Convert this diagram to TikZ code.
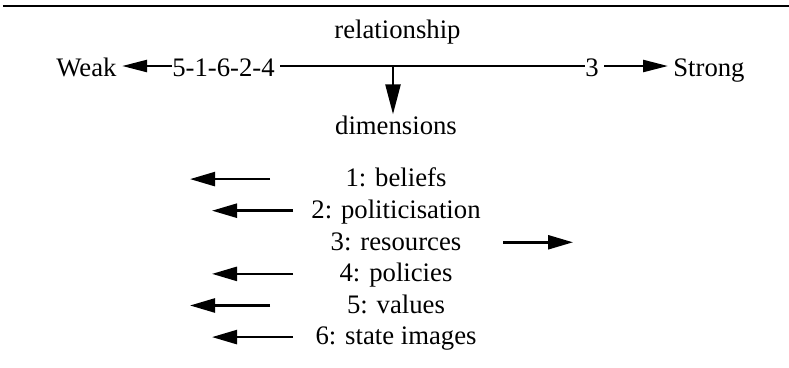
\documentclass[tikz,border=0pt]{standalone}
\usepackage{fontspec}
\setmainfont{Liberation Serif}
\usepackage{tikz}
\usetikzlibrary{arrows.meta}

\begin{document}
\begin{tikzpicture}[
    lbl/.style={inner sep=0pt, font=\fontsize{15.2pt}{18pt}\selectfont},
    rowtxt/.style={lbl, text height=12.5pt, text depth=0pt},
    dimtxt/.style={lbl, text height=9pt, text depth=0pt},
    axisarrow/.style={-{Triangle[length=0.5cm, width=0.24cm]}, line width=1.4pt},
    dimarrow/.style={-{Triangle[length=0.5cm, width=0.28cm]}, line width=1.4pt},
    downarrow/.style={-{Triangle[length=0.6cm, width=0.3cm]}, line width=1.4pt}
  ]
\useasboundingbox (0,0) rectangle (15.78,7.36);

\draw[line width=1pt] (0.06,7.24) -- (15.78,7.24);

\node[lbl, anchor=base] (relation) at (7.95,6.59) {relationship};

% the scale from weak to strong
\node[rowtxt, anchor=base west] (weak) at (1.12,5.82) {Weak};

\node[rowtxt, anchor=base west] (order) at (3.44,5.82) {5-1-6-2-4};

\node[rowtxt, anchor=base west] (three) at (11.70,5.82) {3};

\node[rowtxt, anchor=base west] (strong) at (13.46,5.82) {Strong};

\draw[axisarrow, shorten >=3pt] (order) -- (weak);

\draw[line width=1.4pt, shorten <=0.1cm] (order) -- (three);

\draw[axisarrow, shorten <=0.1cm, shorten >=0.1cm] (three) -- (strong);

\coordinate (split) at (7.86,0 |- order.east);

\node[lbl, anchor=base] (dims) at (7.92,4.66) {dimensions};

\draw[downarrow, shorten >=1pt] (split) -- (split |- dims.north);

% dimensions
\node[dimtxt, anchor=base] (d1) at (7.92,3.620) {1: beliefs};

\node[dimtxt, anchor=base] (d2) at (7.92,2.988) {2: politicisation};

\node[dimtxt, anchor=base] (d3) at (7.92,2.356) {3: resources};

\node[dimtxt, anchor=base] (d4) at (7.92,1.724) {4: policies};

\node[dimtxt, anchor=base] (d5) at (7.92,1.092) {5: values};

\node[dimtxt, anchor=base] (d6) at (7.92,0.460) {6: state images};

\draw[dimarrow] (5.40,0 |- d1.west) -- (3.80,0 |- d1.west);

\draw[dimarrow] (5.86,0 |- d2.west) -- (4.24,0 |- d2.west);

\draw[dimarrow] (10.06,0 |- d3.east) -- (11.46,0 |- d3.east);

\draw[dimarrow] (5.86,0 |- d4.west) -- (4.24,0 |- d4.west);

\draw[dimarrow] (5.40,0 |- d5.west) -- (3.80,0 |- d5.west);

\draw[dimarrow] (5.86,0 |- d6.west) -- (4.24,0 |- d6.west);

\end{tikzpicture}
\end{document}
